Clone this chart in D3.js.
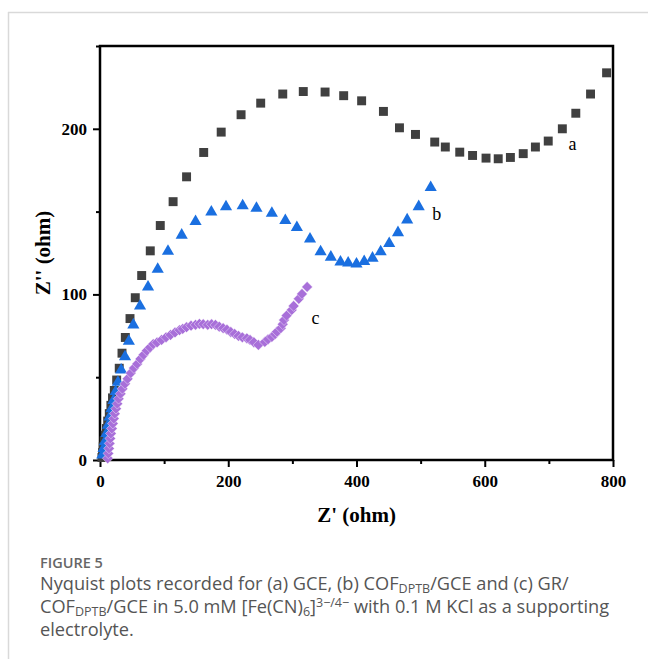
<!DOCTYPE html>
<html>
<head>
<meta charset="utf-8">
<script src="https://cdn.jsdelivr.net/npm/d3@7"></script>
<style>
  body { margin: 0; background: #fff; }
</style>
</head>
<body>
<div id="chart"></div>
<script>
// Nyquist data: [Z' , Z''] in ohm
const seriesA = [[3,1.5],[4,4.5],[5,8],[6.5,11.5],[8,15],[10,19],[12,23.5],[14.5,28],[17,33],[19.5,37.5],
  [22.3,42],[26,48.3],[30,55.4],[34.3,64.5],[39.5,74],[46.8,85.4],[55,98],[65,111.4],[78.4,126.3],[94,141.6],
  [114,156],[135,171],[161.7,185.7],[189,198],[220,208.5],[250.6,215.5],[285,221],[317,222.5],[351,222.2],[380,220],
  [408,216.9],[442,210.5],[467,200.6],[492,196.6],[522,192],[538.5,189],[561,185.9],[581,183.9],[602,182.3],[621,181.9],
  [640,182.7],[660,185],[679,189],[699,192.6],[721,200],[742,209.4],[765,221],[790,233.8]];

const seriesB = [[3.5,3],[5.5,7],[7.5,11],[10,16],[12.5,21],[15,26],[18,31],[21,36],[24.5,41.3],[28,47],
  [33,54.4],[39,62.4],[45,71.7],[52,81.6],[62.4,93],[74.9,104.5],[90,115.2],[106,126],[127.4,135.8],[149,144],
  [173.6,149.7],[196.5,152.9],[222.5,153.5],[244,152],[268,149],[289,144.6],[307,140.4],[327.5,133.5],[344,125.7],[360,122.5],
  [375,119.6],[387,119],[400,118.4],[412,119.8],[425,121.9],[437.7,125.7],[451,130.7],[464.7,137.3],[479,145],[497,153],
  [515.7,164.5]];

const seriesC = [[12,1],[13,4],[14,7],[15,10],[16,13],[17,16],[18.5,19],[20,22],[21.5,25],[23,28],
  [25,31],[27,34],[29,37],[32,40],[35,43],[39,46],[43,49],[48,52.5],[53,55.5],[58,58],
  [63,61],[68,63.5],[73,66],[78,68],[83,70],[89,71],[96,72.5],[103,74.1],[110,75.5],[117,77],
  [124,78.4],[129,79.2],[135,80.2],[142,81.1],[149,81.6],[155,82.2],[161,82],[168,81.6],[174,82],[180,81.6],
  [186,80.5],[192,79.6],[198,78.7],[204,77.3],[210,76.1],[216,74.9],[222,74.1],[229,73.5],[234,72.5],[240,71.1],
  [247,69.5],[257,71.3],[262,72.9],[268,74.3],[273,76],[276,77.5],[282,79.6],[285,82],[287,84.5],[291,87.2],
  [299,90.6],[302,93],[310,97.3],[315,100.3],[323,104.5]];

const seriesLabels = [
  {name: "a", x: 737, y: 191},
  {name: "b", x: 525, y: 149},
  {name: "c", x: 336, y: 86}
];

const xMajor = [0, 200, 400, 600, 800];
const xMinor = [100, 300, 500, 700];
const yMajor = [0, 100, 200];
const yMinor = [50, 150, 250];

const W = 648, H = 659;
const plot = {left: 100, right: 613, top: 46, bottom: 460};
const serif = "'Liberation Serif', 'Times New Roman', serif";
const sans = "'Open Sans', 'Noto Sans', sans-serif";

const svg = d3.select("#chart").append("svg")
  .attr("width", W).attr("height", H);

// card borders
svg.append("line").attr("x1", 8).attr("x2", W).attr("y1", 12.5).attr("y2", 12.5)
  .attr("stroke", "#d9d9d9").attr("stroke-width", 1.5);
svg.append("line").attr("x1", 8.5).attr("x2", 8.5).attr("y1", 12).attr("y2", H)
  .attr("stroke", "#d9d9d9").attr("stroke-width", 1.5);

const x = d3.scaleLinear().domain([0, 800]).range([plot.left, plot.right]);
const y = d3.scaleLinear().domain([0, 250]).range([plot.bottom, plot.top]);

// minor ticks
svg.append("g")
  .attr("transform", `translate(0,${plot.bottom})`)
  .call(d3.axisBottom(x).tickValues(xMinor).tickSize(4).tickFormat(""))
  .call(g => g.select(".domain").remove());
svg.append("g")
  .attr("transform", `translate(${plot.left},0)`)
  .call(d3.axisLeft(y).tickValues(yMinor).tickSize(4).tickFormat(""))
  .call(g => g.select(".domain").remove());

// major ticks + labels
const xAxis = svg.append("g")
  .attr("transform", `translate(0,${plot.bottom})`)
  .call(d3.axisBottom(x).tickValues(xMajor).tickSize(7).tickPadding(8).tickFormat(d3.format("d")));
const yAxis = svg.append("g")
  .attr("transform", `translate(${plot.left},0)`)
  .call(d3.axisLeft(y).tickValues(yMajor).tickSize(7).tickPadding(6).tickFormat(d3.format("d")));

svg.selectAll(".tick line").attr("stroke", "#000").attr("stroke-width", 2);
svg.selectAll(".domain").remove();
[xAxis, yAxis].forEach(g => g.selectAll("text")
  .attr("fill", "#000")
  .style("font-family", serif)
  .style("font-weight", "bold")
  .style("font-size", "17px"));

// frame
svg.append("rect")
  .attr("x", plot.left).attr("y", plot.top)
  .attr("width", plot.right - plot.left).attr("height", plot.bottom - plot.top)
  .attr("fill", "none").attr("stroke", "#000").attr("stroke-width", 2.5);

// axis titles
svg.append("text")
  .attr("x", (plot.left + plot.right) / 2).attr("y", 522)
  .attr("text-anchor", "middle")
  .style("font-family", serif).style("font-weight", "bold").style("font-size", "21px")
  .text("Z' (ohm)");
svg.append("text")
  .attr("transform", `translate(50,${(plot.top + plot.bottom) / 2}) rotate(-90)`)
  .attr("text-anchor", "middle")
  .style("font-family", serif).style("font-weight", "bold").style("font-size", "21px")
  .text("Z'' (ohm)");

// markers
const sq = d3.symbol().type(d3.symbolSquare).size(80);
const tri = d3.symbol().type(d3.symbolTriangle).size(64);
const dia = d3.symbol().type(d3.symbolSquare).size(58);

svg.append("g").selectAll("path")
  .data(seriesA)
  .join("path")
    .attr("d", sq)
    .attr("fill", "#404040")
    .attr("transform", d => `translate(${x(d[0])},${y(d[1])})`);

svg.append("g").selectAll("path")
  .data(seriesB)
  .join("path")
    .attr("d", tri)
    .attr("fill", "#1a6fe0")
    .attr("transform", d => `translate(${x(d[0])},${y(d[1])})`);

svg.append("g").selectAll("path")
  .data(seriesC)
  .join("path")
    .attr("d", dia)
    .attr("fill", "#a86fd9")
    .attr("stroke", "#fff").attr("stroke-width", 0.4)
    .attr("transform", d => `translate(${x(d[0])},${y(d[1])}) rotate(45)`);

// series letters
svg.append("g").selectAll("text")
  .data(seriesLabels)
  .join("text")
    .attr("x", d => x(d.x)).attr("y", d => y(d.y))
    .attr("text-anchor", "middle")
    .attr("dy", "0.35em")
    .style("font-family", serif).style("font-size", "18px")
    .text(d => d.name);

// caption
const cap = svg.append("g").style("font-family", sans).attr("fill", "#555");
cap.append("text").attr("x", 40).attr("y", 568)
  .style("font-size", "14.5px").style("font-weight", "600").attr("fill", "#666")
  .text("FIGURE 5");

const l1 = cap.append("text").attr("x", 40).attr("y", 590).style("font-size", "18.2px");
l1.append("tspan").text("Nyquist plots recorded for (a) GCE, (b) COF");
l1.append("tspan").attr("baseline-shift", "-22%").style("font-size", "12.5px").text("DPTB");
l1.append("tspan").text("/GCE and (c) GR/");

const l2 = cap.append("text").attr("x", 40).attr("y", 613).style("font-size", "18.2px");
l2.append("tspan").text("COF");
l2.append("tspan").attr("baseline-shift", "-22%").style("font-size", "12.5px").text("DPTB");
l2.append("tspan").text("/GCE in 5.0 mM [Fe(CN)");
l2.append("tspan").attr("baseline-shift", "-22%").style("font-size", "12.5px").text("6");
l2.append("tspan").text("]");
l2.append("tspan").attr("baseline-shift", "45%").style("font-size", "12.5px").text("3\u2212/4\u2212");
l2.append("tspan").text(" with 0.1 M KCl as a supporting");

cap.append("text").attr("x", 40).attr("y", 636).style("font-size", "18.2px")
  .text("electrolyte.");
</script>
</body>
</html>
